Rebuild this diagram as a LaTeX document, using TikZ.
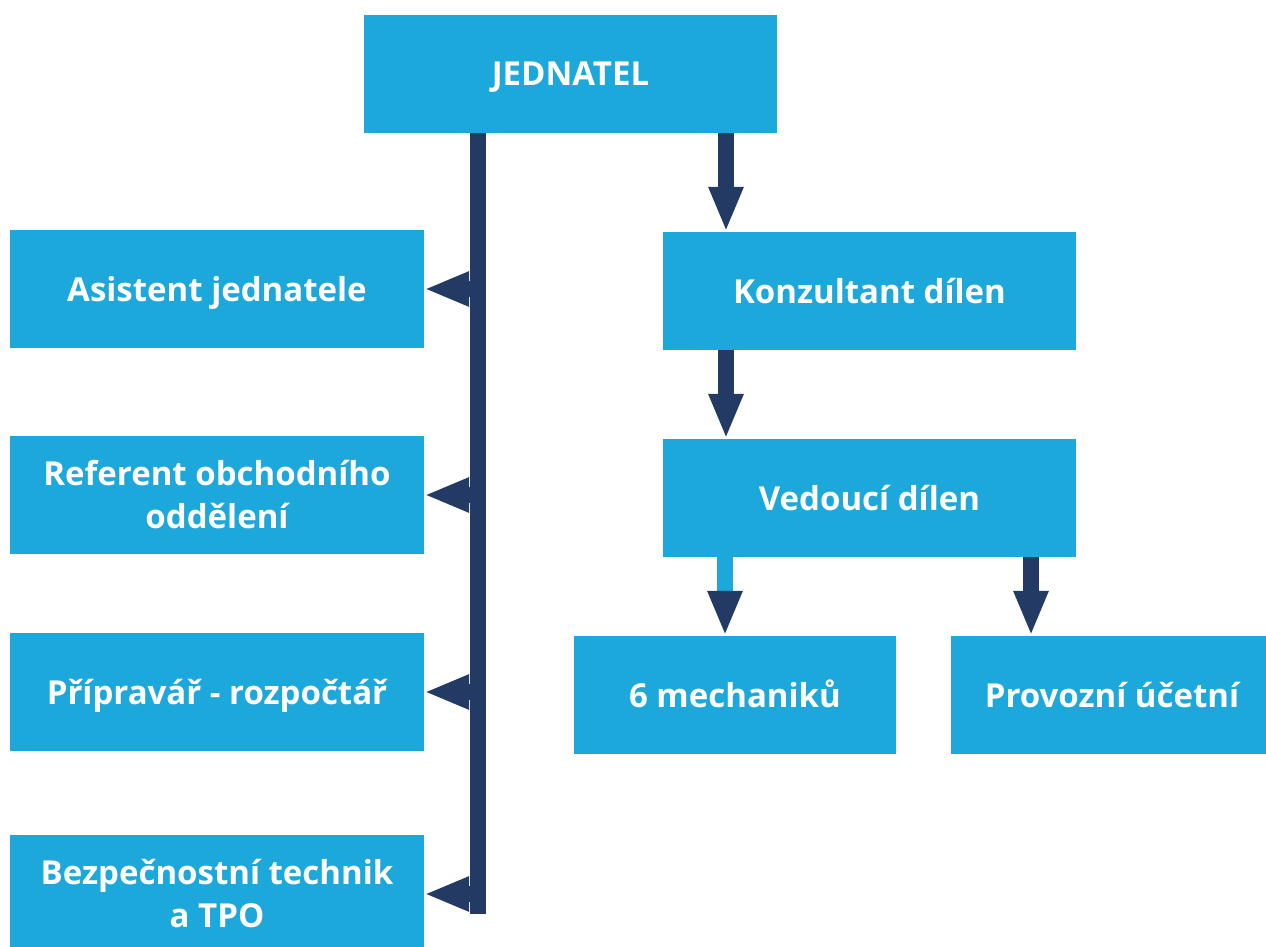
\documentclass[tikz,border=0pt]{standalone}
\usepackage{fontspec}
\setmainfont{Open Sans}
\usetikzlibrary{arrows.meta}
\definecolor{boxblue}{RGB}{29,168,220}
\definecolor{linknavy}{RGB}{35,58,100}

\begin{document}
\begin{tikzpicture}[x=1pt,y=-1pt,
  box/.style={fill=boxblue,text=white,inner sep=0pt,minimum width=414pt,
    minimum height=118pt,align=center,text height=24pt,text depth=0pt,
    font=\bfseries\fontsize{33}{43}\selectfont},
  twolines/.style={text height=67pt},
  link/.style={draw=linknavy,line width=16pt,
    -{Triangle[length=45pt,width=32pt,color=linknavy]}},
  spine/.style={draw=linknavy,line width=16pt}]
\useasboundingbox (0,0) rectangle (1266,947);
% Top of the chart
\node[box,minimum width=413pt] (jednatel) at (570.5,74) {JEDNATEL};
% Staff on the left
\node[box] (asistent) at (217,289) {Asistent jednatele};
\node[box,twolines] (referent) at (217,495) {Referent obchodního\\oddělení};
\node[box] (pripravar) at (217,692) {Přípravář - rozpočtář};
\node[box,twolines] (technik) at (217,894) {Bezpečnostní technik\\a TPO};
% Workshops on the right
\node[box,minimum width=413pt] (konzultant) at (869.5,291) {Konzultant dílen};
\node[box,minimum width=413pt] (vedouci) at (869.5,498) {Vedoucí dílen};
\node[box,minimum width=322pt] (mechanici) at (735,695) {6 mechaniků};
\node[box,minimum width=322pt] (ucetni) at (1112,695) {Provozní účetní};
% Columns the arrows run in
\coordinate (spine) at (478,914);
\coordinate (right) at (726,0);
\coordinate (leftdrop) at (725,0);
\coordinate (rightdrop) at (1031,0);
% The spine on the left, with a branch to each box
\draw[spine] (jednatel.south -| spine) -- (spine);
\foreach \n in {asistent,referent,pripravar,technik}
  \draw[link] (\n.east -| spine) -- (\n.east);
% Arrows down the right side
\draw[link] (jednatel.south -| right) -- (konzultant.north -| right);
\draw[link] (konzultant.south -| right) -- (vedouci.north -| right);
\draw[link,draw=boxblue] (vedouci.south -| leftdrop) -- (mechanici.north -| leftdrop);
\draw[link] (vedouci.south -| rightdrop) -- (ucetni.north -| rightdrop);
\end{tikzpicture}
\end{document}
